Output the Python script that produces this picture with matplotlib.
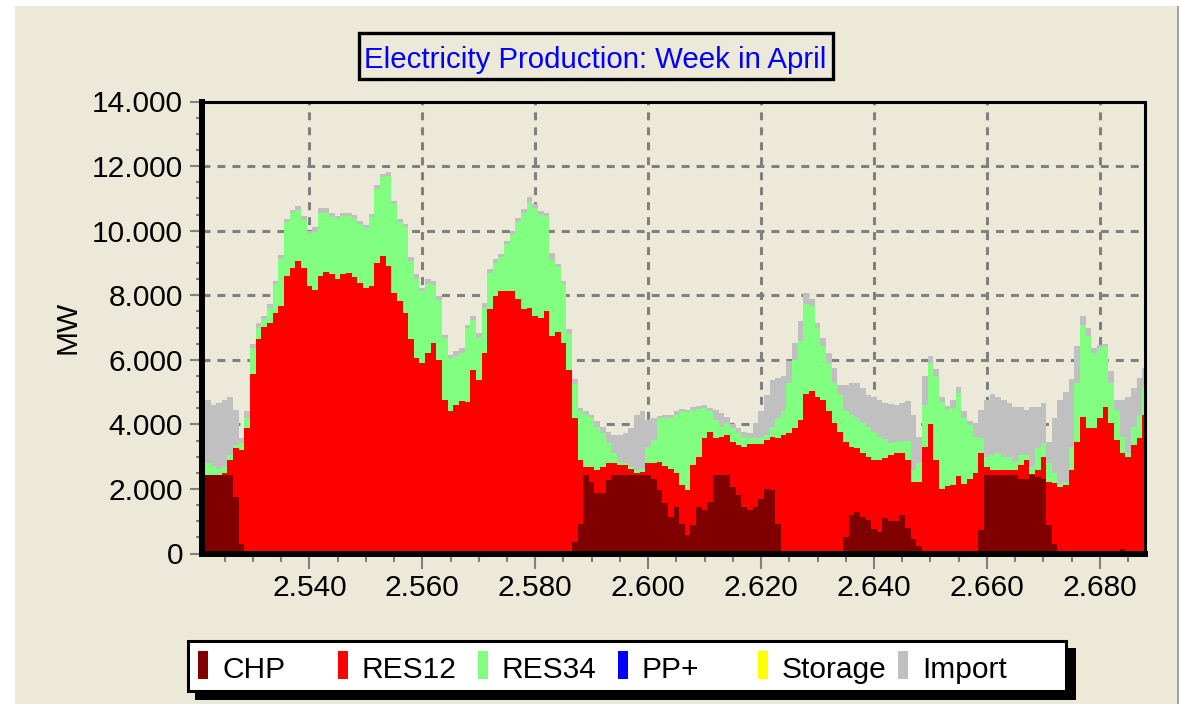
import numpy as np
import matplotlib
matplotlib.use('Agg')
import matplotlib.pyplot as plt
from matplotlib import font_manager
from matplotlib.patches import Rectangle
from matplotlib.ticker import MultipleLocator, FuncFormatter

# hour of year, one week in April
hours = np.arange(2521, 2689)

chp = [2430, 2430, 2430, 2430, 2430, 2430, 1750, 300, 0, 0,
       0, 0, 0, 0, 0, 0, 0, 0, 0, 0,
       0, 0, 0, 0, 0, 0, 0, 0, 0, 0,
       0, 0, 0, 0, 0, 0, 0, 0, 0, 0,
       0, 0, 0, 0, 0, 0, 0, 0, 0, 0,
       0, 0, 0, 0, 0, 0, 0, 0, 0, 0,
       0, 0, 0, 0, 0, 0, 350, 920, 2430, 2220,
       1860, 1860, 2270, 2430, 2430, 2430, 2430, 2430, 2430, 2430,
       2320, 1960, 1550, 1130, 1440, 920, 570, 870, 1440, 1340,
       1600, 2430, 2430, 2430, 2060, 1800, 1440, 1340, 1440, 1700,
       2010, 1960, 920, 0, 0, 0, 0, 0, 0, 0,
       0, 0, 0, 0, 510, 1180, 1290, 1130, 1030, 770,
       660, 1100, 1000, 1000, 1200, 800, 460, 220, 0, 0,
       0, 0, 0, 0, 0, 0, 0, 0, 740, 2430,
       2430, 2430, 2430, 2430, 2430, 2320, 2320, 2430, 2370, 2320,
       870, 280, 0, 0, 0, 0, 0, 0, 0, 0,
       0, 0, 0, 150, 0, 0, 0, 0]

res12 = [100, 0, 0, 0, 50, 470, 1510, 2900, 3900, 5550,
         6630, 7020, 7150, 7460, 7680, 8600, 8830, 9060, 8840, 8290,
         8150, 8600, 8730, 8650, 8490, 8650, 8680, 8570, 8390, 8230,
         8290, 9010, 9220, 8910, 8060, 7810, 7460, 6630, 6060, 5900,
         6210, 6520, 6000, 4760, 4400, 4600, 4710, 4700, 5690, 5380,
         6210, 7560, 7970, 8130, 8130, 8120, 7870, 7560, 7610, 7370,
         7300, 7510, 6730, 6850, 6520, 5690, 3850, 1980, 260, 470,
         720, 830, 520, 360, 310, 310, 200, 50, 100, 360,
         470, 880, 1160, 1500, 1040, 1200, 1390, 1870, 1560, 2230,
         2170, 1140, 1190, 1240, 1400, 1560, 1850, 2050, 1950, 1690,
         1510, 1660, 2650, 3670, 3740, 3880, 4140, 4940, 5020, 4860,
         4760, 4400, 4030, 3770, 2950, 2110, 1970, 1970, 1970, 2120,
         2230, 1850, 2050, 2100, 1900, 2090, 1740, 1980, 3300, 4000,
         2900, 2010, 2100, 2120, 2400, 2150, 2320, 2480, 2360, 260,
         150, 170, 170, 170, 170, 420, 570, 30, 210, 680,
         1350, 1910, 2060, 2120, 2600, 3460, 4240, 3880, 3880, 4190,
         4550, 4030, 3520, 2950, 3000, 3360, 3570, 4290]

res34 = [280, 380, 270, 200, 200, 140, 100, 210, 300, 800,
         360, 230, 460, 880, 1440, 1660, 1710, 1590, 1490, 1610,
         1820, 1950, 1820, 1760, 1860, 1790, 1760, 1780, 1810, 1840,
         2120, 2280, 2440, 2780, 2770, 2450, 2640, 2430, 2440, 2230,
         2150, 1790, 1840, 1920, 1660, 1530, 1500, 2290, 1540, 1300,
         1400, 1140, 1040, 1040, 1450, 1750, 2390, 2990, 3270, 3320,
         3170, 2930, 2350, 2010, 1820, 1100, 1050, 1500, 1600, 1500,
         1350, 1030, 620, 310, 100, 70, 60, 100, 100, 520,
         730, 1350, 1480, 1560, 1810, 2280, 2410, 1710, 1480, 930,
         630, 570, 310, 360, 420, 360, 330, 180, 180, 180,
         150, 310, 620, 730, 1540, 2120, 2430, 2780, 2640, 2130,
         1660, 1500, 1250, 1150, 940, 1000, 930, 930, 930, 880,
         730, 600, 370, 360, 380, 610, 400, 600, 1300, 1900,
         2590, 2690, 2350, 2400, 2560, 2050, 1660, 1140, 470, 300,
         470, 500, 400, 400, 240, 310, 160, 230, 680, 410,
         570, 290, 100, 80, 700, 1820, 2850, 2850, 2330, 2180,
         1870, 1250, 930, 520, 100, 570, 720, 880]

pp_plus = np.zeros(len(hours))
storage = np.zeros(len(hours))

imports = [2050, 1950, 1900, 2030, 2080, 1820, 1090, 160, 200, 150,
           160, 100, 110, 100, 130, 100, 110, 120, 120, 100,
           130, 140, 140, 140, 110, 110, 110, 130, 110, 100,
           100, 110, 100, 120, 100, 100, 100, 110, 150, 100,
           130, 130, 130, 100, 100, 130, 160, 100, 120, 150,
           160, 100, 110, 100, 110, 130, 120, 120, 150, 140,
           150, 120, 240, 100, 100, 150, 150, 100, 110, 100,
           160, 210, 360, 570, 830, 910, 1190, 1710, 1770, 830,
           670, 70, 100, 100, 110, 80, 80, 80, 100, 100,
           100, 290, 420, 210, 120, 160, 150, 170, 460, 830,
           1250, 1450, 1240, 1090, 670, 520, 630, 360, 210, 160,
           260, 310, 460, 310, 830, 990, 1090, 1090, 990, 1090,
           1120, 1110, 1210, 1140, 1180, 1230, 1700, 800, 900, 210,
           210, 160, 130, 230, 190, 200, 110, 430, 890, 1750,
           1900, 1760, 1760, 1660, 1690, 1480, 1400, 1840, 1270, 1250,
           670, 1710, 2600, 2800, 2100, 1140, 270, 260, 160, 80,
           80, 360, 310, 1140, 1760, 1190, 1140, 570]

names = ['CHP', 'RES12', 'RES34', 'PP+', 'Storage', 'Import']
colors = ['#800000', '#FF0000', '#80FF80', '#0000FF', '#FFFF00', '#C0C0C0']

W, H = 1179, 704
BG = '#ECE9D8'

installed = {f.name for f in font_manager.fontManager.ttflist}
if 'Liberation Sans Narrow' in installed:
    FONT, FS = 'Liberation Sans Narrow', 25
else:
    FONT, FS = 'Liberation Sans', 21.5
plt.rcParams['font.family'] = [FONT, 'DejaVu Sans']


def fx(x):
    return x / W


def fy(y):
    return 1 - y / H


def px_rect(fig, x0, y0, x1, y1, **kw):
    r = Rectangle((fx(x0), fy(y1)), (x1 - x0) / W, (y1 - y0) / H,
                  transform=fig.transFigure, **kw)
    fig.patches.append(r)
    return r


fig = plt.figure(figsize=(W / 100, H / 100), dpi=100, facecolor='white')

# window background
px_rect(fig, 15, 6, 1177, H + 2, facecolor=BG, edgecolor='none', zorder=-10)
px_rect(fig, 1177, 6, 1179, H + 2, facecolor='#A8A498', edgecolor='none', zorder=-10)

ax = fig.add_axes([fx(201.5), fy(553.5), (1145 - 201.5) / W, (553.5 - 101.5) / H])
ax.set_facecolor(BG)

ax.stackplot(hours, chp, res12, res34, pp_plus, storage, imports,
             colors=colors, step='mid', linewidth=0, antialiased=False)

ax.set_xlim(2520.9, 2688)
ax.set_ylim(0, 14000)

ax.xaxis.set_major_locator(MultipleLocator(20))
ax.xaxis.set_minor_locator(MultipleLocator(5))
ax.yaxis.set_major_locator(MultipleLocator(2000))
ax.yaxis.set_minor_locator(MultipleLocator(500))

dotfmt = FuncFormatter(lambda v, p: '{:,.0f}'.format(v).replace(',', '.'))
ax.xaxis.set_major_formatter(dotfmt)
ax.yaxis.set_major_formatter(dotfmt)

ax.tick_params(axis='x', which='major', length=10.5, width=1.5, color='#808080',
               pad=4, labelsize=FS)
ax.tick_params(axis='x', which='minor', length=6, width=1.5, color='#808080')
ax.tick_params(axis='y', which='major', length=8.3, width=1.5, color='#808080',
               pad=5, labelsize=FS)
ax.tick_params(axis='y', which='minor', length=4, width=1.5, color='#808080')

ax.set_axisbelow(True)
ax.grid(True, which='major', color='#808080', linewidth=2.2,
        linestyle=(0, (2.6, 2.3)))

for side in ['left', 'bottom']:
    ax.spines[side].set_linewidth(4.3)
for side in ['top', 'right']:
    ax.spines[side].set_linewidth(2.2)
for s in ax.spines.values():
    s.set_color('black')
    s.set_zorder(5)

ax.set_ylabel('MW', fontsize=FS)
ax.yaxis.label.set_va('center')
ax.yaxis.set_label_coords((67 - 201.5) / (1145 - 201.5), 0.5)

# title box
px_rect(fig, 358.5, 32.5, 832.5, 78.5, facecolor=BG, edgecolor='black',
        linewidth=2.4, zorder=2)
fig.text(fx(595), fy(68), 'Electricity Production: Week in April',
         color='#0000FF', fontsize=FS - 0.3, ha='center', va='baseline', zorder=3)

# legend box with drop shadow
px_rect(fig, 195, 648, 1076, 700, facecolor='black', edgecolor='none', zorder=2)
px_rect(fig, 187.5, 640.5, 1065.5, 690.5, facecolor='white', edgecolor='black',
        linewidth=2.2, zorder=3)
for i, (name, col) in enumerate(zip(names, colors)):
    x0 = 198 + 140 * i
    px_rect(fig, x0, 651, x0 + 10, 679, facecolor=col, edgecolor='none', zorder=4)
    fig.text(fx(x0 + 24), fy(678), name, fontsize=FS, color='black',
             ha='left', va='baseline', zorder=4)

plt.savefig('out.png', dpi=100, facecolor='white')
